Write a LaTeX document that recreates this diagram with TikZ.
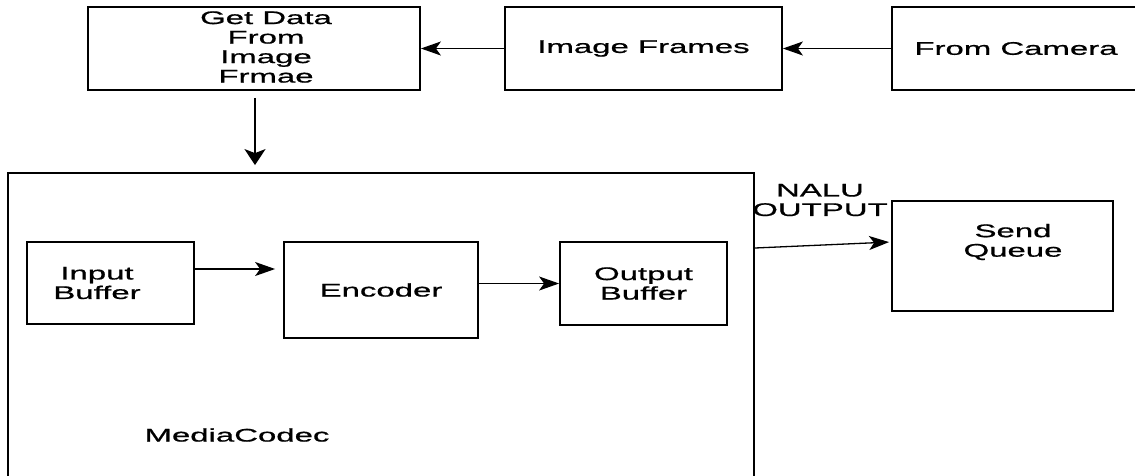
\documentclass[tikz,border=0pt]{standalone}
\usepackage{fontspec}
\setmainfont[FakeStretch=1.8, FakeBold=0.8]{Liberation Sans}
\usetikzlibrary{arrows.meta}

\begin{document}
\begin{tikzpicture}[x=1pt, y=-1pt,
		box/.style={draw, line width=1.8pt, inner sep=0pt},
		txt/.style={align=center, font=\fontsize{18.3}{19.5}\selectfont},
		arr/.style={line width=1.3pt, -{Stealth[length=20pt, width=14pt, inset=5pt]}},
		bigarr/.style={line width=1.8pt, -{Stealth[length=16pt, width=21pt, inset=4pt]}}]
		\useasboundingbox (0,0) rectangle (1135,475);
		% top row
		\node [box, minimum width=332pt, minimum height=83pt] (GetData) at (254,48.5) {};
		\node [txt] (GetDataTxt) at (266,47) {Get Data\\From\\Image\\Frmae};
		\node [box, txt, minimum width=277pt, minimum height=83pt] (ImgFrames) at (643.5,48.5) {Image Frames};
		\node [box, txt, minimum width=248pt, minimum height=83pt] (Camera) at (1016,48.5) {From Camera};
		\draw [arr] (Camera) -- (ImgFrames);
		\draw [arr] (ImgFrames) -- (GetData);
		% codec block
		\node [box, minimum width=746pt, minimum height=307pt] (Codec) at (381,326.5) {};
		\node [txt] (CodecTxt) at (237,435) {MediaCodec};
		\node [box, minimum width=167pt, minimum height=82pt] (InBuf) at (110.5,283) {};
		\node [txt] (InBufTxt) at (97,283) {Input\\Buffer};
		\node [box, txt, minimum width=194pt, minimum height=96pt] (Enc) at (381,290) {Encoder};
		\node [box, txt, minimum width=167pt, minimum height=83pt] (OutBuf) at (643.5,283.5) {Output\\Buffer};
		\draw [bigarr, shorten <=7pt, shorten >=7pt] (GetData.south -| 255,0) -- (Codec.north -| 255,0);
		\draw [arr, shorten >=8pt] ([yshift=14pt]InBuf.east) -- ([yshift=14pt]InBuf.east -| Enc.west);
		\draw [arr] (Enc.east |- OutBuf.west) -- (OutBuf.west);
		% output side
		\node [box, minimum width=221pt, minimum height=110pt] (SendQ) at (1002.5,256) {};
		\node [txt] (SendQTxt) at (1013,242) {Send\\Queue};
		\coordinate (NaluOut) at (Codec.east |- 0,248);
		\draw [arr, shorten >=2pt] (NaluOut) -- ([yshift=14pt]SendQ.west);
		\node [txt] (NaluTxt) at (820,200) {NALU\\OUTPUT};
	\end{tikzpicture}
\end{document}
